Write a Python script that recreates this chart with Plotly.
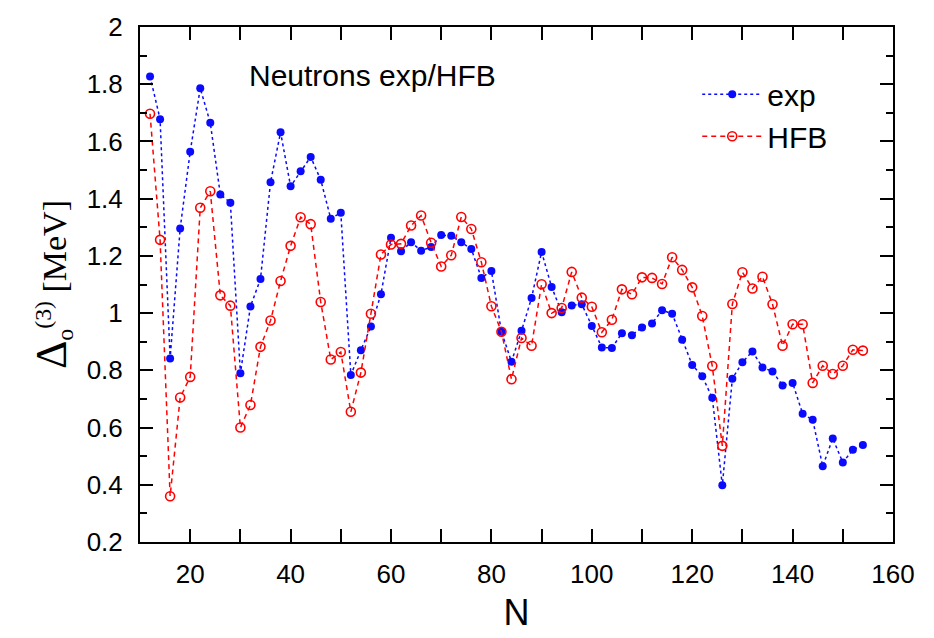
import plotly.graph_objects as go

N = list(range(12, 156, 2))

exp_vals = [1.827, 1.678, 0.841, 1.296, 1.564, 1.786, 1.665, 1.415, 1.386, 0.790,
            1.023, 1.119, 1.457, 1.632, 1.443, 1.496, 1.546, 1.466, 1.330, 1.351,
            0.784, 0.870, 0.953, 1.066, 1.263, 1.216, 1.248, 1.218, 1.231, 1.273,
            1.270, 1.248, 1.224, 1.123, 1.147, 0.935, 0.830, 0.938, 1.053, 1.214,
            1.091, 1.003, 1.027, 1.031, 0.955, 0.880, 0.878, 0.930, 0.923, 0.950,
            0.964, 1.010, 0.998, 0.907, 0.819, 0.779, 0.704, 0.398, 0.771, 0.828,
            0.866, 0.810, 0.796, 0.747, 0.756, 0.648, 0.627, 0.465, 0.562, 0.478,
            0.522, 0.539]

hfb_vals = [1.697, 1.256, 0.360, 0.705, 0.777, 1.368, 1.426, 1.062, 1.026, 0.600,
            0.679, 0.882, 0.974, 1.112, 1.235, 1.335, 1.311, 1.039, 0.838, 0.864,
            0.655, 0.792, 0.998, 1.205, 1.240, 1.242, 1.306, 1.341, 1.246, 1.163,
            1.202, 1.336, 1.294, 1.178, 1.024, 0.935, 0.769, 0.913, 0.886, 1.101,
            1.000, 1.018, 1.144, 1.054, 1.022, 0.933, 0.977, 1.083, 1.066, 1.125,
            1.123, 1.102, 1.195, 1.151, 1.090, 0.990, 0.815, 0.536, 1.032, 1.143,
            1.086, 1.127, 1.031, 0.886, 0.961, 0.961, 0.756, 0.816, 0.787, 0.816,
            0.872, 0.869]

x_tickvals = [20, 40, 60, 80, 100, 120, 140, 160]
x_ticktext = ["20", "40", "60", "80", "100", "120", "140", "160"]
y_tickvals = [0.2, 0.4, 0.6, 0.8, 1.0, 1.2, 1.4, 1.6, 1.8, 2.0]
y_ticktext = ["0.2", "0.4", "0.6", "0.8", "1", "1.2", "1.4", "1.6", "1.8", "2"]

FONT = "Liberation Sans, Arial, Helvetica, sans-serif"
SERIF = "Liberation Serif, Times New Roman, serif"

fig = go.Figure()
fig.add_trace(go.Scatter(
    x=N, y=exp_vals, name="exp", mode="lines+markers",
    line=dict(color="#0a0aff", width=1.5, dash="3px,3px"),
    marker=dict(symbol="circle", size=8, color="#0a0aff"),
))
fig.add_trace(go.Scatter(
    x=N, y=hfb_vals, name="HFB", mode="lines+markers",
    line=dict(color="#ff0000", width=1.5, dash="5px,4px"),
    marker=dict(symbol="circle-open", size=9, color="#ff0000", line=dict(width=1.6)),
))

fig.add_annotation(
    x=31.3, y=1.83, xref="x", yref="y", xanchor="left", yanchor="middle",
    text="Neutrons exp/HFB", showarrow=False,
    font=dict(family=FONT, size=30, color="black"),
)

fig.update_layout(
    width=934, height=638,
    margin=dict(l=140, r=41, t=18, b=95),
    paper_bgcolor="white", plot_bgcolor="white",
    font=dict(family=FONT, color="black"),
    showlegend=True,
    legend=dict(
        x=0.74, y=0.92, xanchor="left", yanchor="top",
        bgcolor="rgba(0,0,0,0)", font=dict(family=FONT, size=30),
        itemwidth=60, tracegroupgap=0,
    ),
)

fig.update_xaxes(
    range=[10, 160], tickmode="array", tickvals=x_tickvals, ticktext=x_ticktext,
    ticks="inside", ticklen=13, tickwidth=1.5, tickcolor="black",
    minor=dict(dtick=10, tick0=10, ticks="inside", ticklen=13, tickwidth=1.5, tickcolor="black"),
    showline=True, linecolor="black", linewidth=2, mirror="ticks",
    showgrid=False, zeroline=False,
    tickfont=dict(family=FONT, size=26), ticklabelstandoff=8,
    title=dict(text="N", font=dict(family=FONT, size=36), standoff=12),
)
fig.update_yaxes(
    range=[0.2, 2.0], tickmode="array", tickvals=y_tickvals, ticktext=y_ticktext,
    ticks="inside", ticklen=13, tickwidth=1.5, tickcolor="black",
    minor=dict(dtick=0.1, tick0=0.2, ticks="inside", ticklen=7, tickwidth=1.5, tickcolor="black"),
    showline=True, linecolor="black", linewidth=2, mirror="ticks",
    showgrid=False, zeroline=False,
    tickfont=dict(family=FONT, size=26), ticklabelstandoff=10,
    title=dict(text="<span style='font-size:44px'>Δ</span><sub>o</sub><sup>(3)</sup> [MeV]",
               font=dict(family=SERIF, size=34), standoff=10),
)

fig.write_html("out.html")
